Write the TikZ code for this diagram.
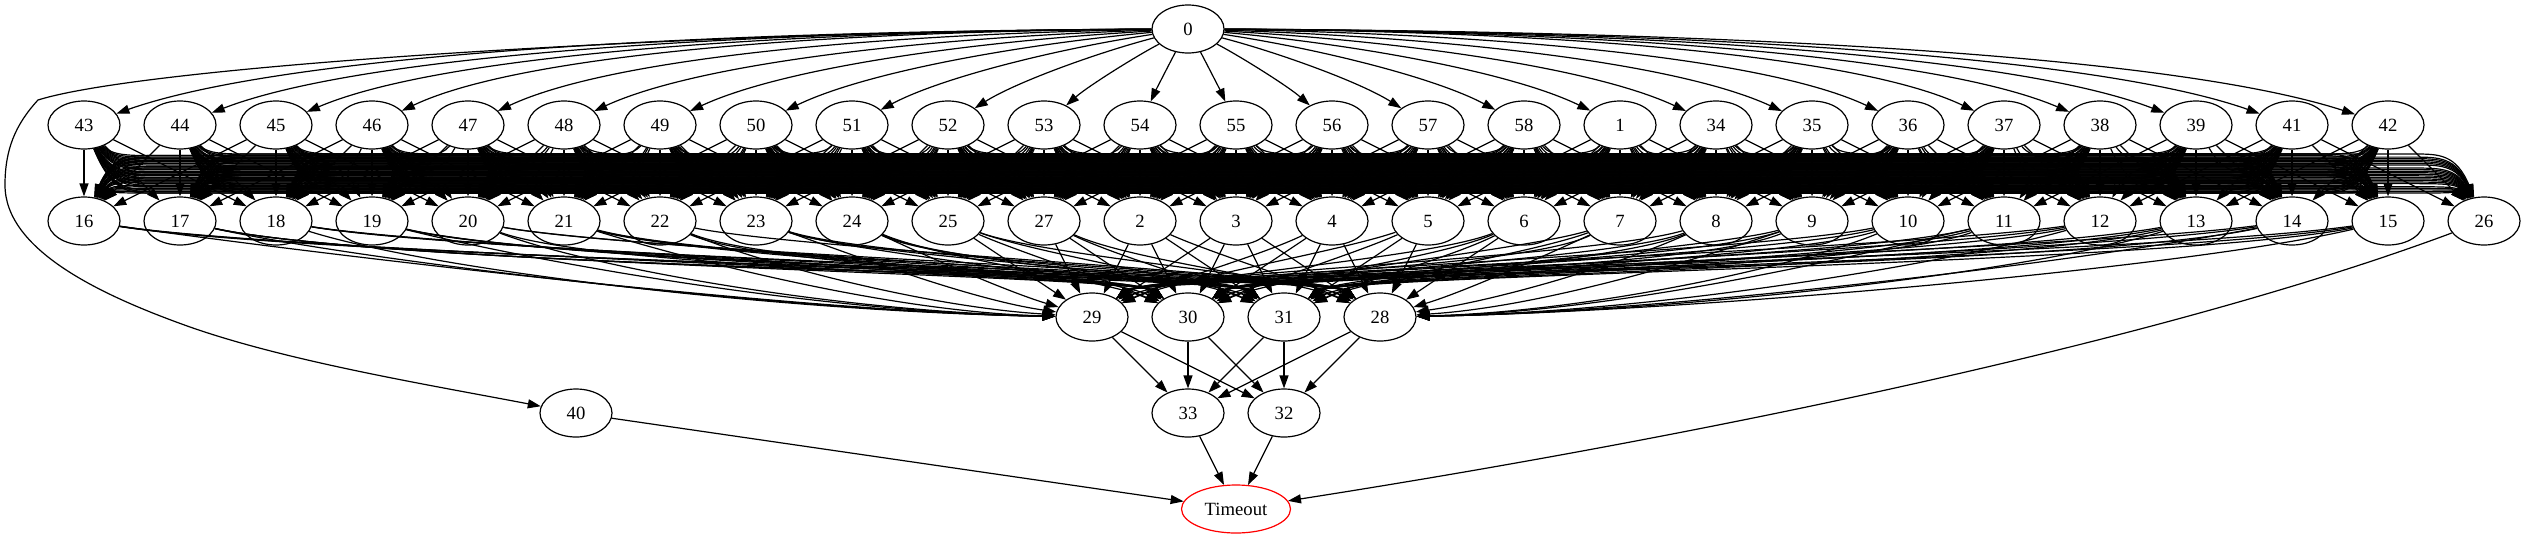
\documentclass[tikz,border=0pt]{standalone}
\usepackage{fontspec}
\setmainfont{Liberation Serif}
\usetikzlibrary{shapes.geometric,arrows.meta}
\begin{document}
\begin{tikzpicture}[x=1pt,y=-1pt,
  gnode/.style={ellipse,draw,line width=1.2pt,minimum width=72pt,minimum height=48pt,inner sep=0pt,font=\fontsize{18.67}{20}\selectfont},
  tnode/.style={gnode,draw=red,minimum width=109pt},
  edge/.style={line width=1.2pt,-{Triangle[length=13pt,width=9pt]}}]
\useasboundingbox (0,0) rectangle (2526,539);
% nodes
\node[gnode] (n0) at (1188,29) {0};
\foreach \lab [count=\i from 0] in {43,44,45,46,47,48,49,50,51,52,53,54,55,56,57,58,1,34,35,36,37,38,39,41,42}
  \node[gnode] (n\lab) at ({84+96*\i},125) {\lab};
\foreach \lab [count=\i from 0] in {16,17,18,19,20,21,22,23,24,25,27,2,3,4,5,6,7,8,9,10,11,12,13,14,15,26}
  \node[gnode] (n\lab) at ({84+96*\i},221) {\lab};
\foreach \lab [count=\i from 0] in {29,30,31,28}
  \node[gnode] (n\lab) at ({1092+96*\i},317) {\lab};
\node[gnode] (n33) at (1188,413) {33};
\node[gnode] (n32) at (1284,413) {32};
\node[gnode] (n40) at (576,413) {40};
\node[tnode] (nT) at (1236,509) {Timeout};
% 0 -> row 1
\foreach \lab [count=\i from 0] in {43,44,45,46,47,48,49,50,51,52,53,54,55,56,57,58,1,34,35,36,37,38,39,41,42} {
  \pgfmathsetmacro\xt{84+96*\i}
  \pgfmathsetmacro\dx{\xt-1188}
  \pgfmathsetmacro\f{min(1,abs(\dx)/800)}
  \pgfmathsetmacro\ax{1188+(1-\f)*\dx/3+\f*0.45*\dx}
  \pgfmathsetmacro\ay{(1-\f)*61+\f*31}
  \pgfmathsetmacro\bx{\xt-(1-\f)*\dx/3-\f*0.18*\dx}
  \pgfmathsetmacro\by{(1-\f)*93+\f*55}
  \draw[edge] (n0) .. controls (\ax,\ay) and (\bx,\by) .. (n\lab);
}
% 0 -> 40
\draw[edge] (n0) .. controls (700,31) and (150,65) .. (38,100)
  .. controls (15,125) and (5,150) .. (5,185)
  .. controls (5,250) and (100,295) .. (190,327)
  .. controls (290,362) and (430,385) .. (n40);
% row 1 -> row 2
\foreach \a [count=\i from 0] in {43,44,45,46,47,48,49,50,51,52,53,54,55,56,57,58,1,34,35,36,37,38,39,41,42} {
  \foreach \b [count=\j from 0] in {16,17,18,19,20,21,22,23,24,25,27,2,3,4,5,6,7,8,9,10,11,12,13,14,15,26} {
    \pgfmathsetmacro\xs{84+96*\i}
    \pgfmathsetmacro\xt{84+96*\j}
    \pgfmathsetmacro\dx{\xt-\xs}
    \pgfmathtruncatemacro\far{abs(\dx)>200}
    \ifnum\far=1
      \pgfmathsetmacro\sg{(\dx>0)-(\dx<0)}
      \pgfmathsetmacro\h{154+39*mod(7*\i+11*\j,26)/25}
      \pgfmathsetmacro\pa{\xs+\sg*28}
      \pgfmathsetmacro\pb{\xs+\sg*45}
      \pgfmathsetmacro\pc{\xs+\sg*70}
      \pgfmathsetmacro\qc{\xt-\sg*70}
      \pgfmathsetmacro\qb{\xt-\sg*45}
      \pgfmathsetmacro\qa{\xt-\sg*28}
      \draw[edge] (n\a) .. controls (\pa,\h) and (\pb,\h) .. (\pc,\h) -- (\qc,\h)
        .. controls (\qb,\h) and (\qa,\h) .. (n\b);
    \else
      \draw[edge] (n\a) -- (n\b);
    \fi
  }
}
% row 2 -> row 3
\foreach \a [count=\j from 0] in {16,17,18,19,20,21,22,23,24,25,27,2,3,4,5,6,7,8,9,10,11,12,13,14,15} {
  \foreach \b [count=\k from 0] in {29,30,31,28} {
    \pgfmathsetmacro\xs{84+96*\j}
    \pgfmathsetmacro\xt{1092+96*\k}
    \pgfmathsetmacro\dx{\xt-\xs}
    \pgfmathsetmacro\f{min(1,max(0,(abs(\dx)-150)/350))}
    \pgfmathsetmacro\sg{(\dx>0)-(\dx<0)}
    \pgfmathsetmacro\blk{(\dx>0)*\k+(\dx<0)*(3-\k)}
    \pgfmathsetmacro\isb{min(1,\blk)}
    \pgfmathsetmacro\aa{(1-\isb)*min(0.4*abs(\dx),300)+\isb*55}
    \pgfmathsetmacro\dd{(1-\isb)*5+\isb*42}
    \pgfmathsetmacro\h{250+22*mod(3*\j+\k,7)/6}
    \pgfmathsetmacro\ax{\xs+(1-\f)*\dx/3+\f*0.2*\dx}
    \pgfmathsetmacro\ay{(1-\f)*253+\f*\h}
    \pgfmathsetmacro\bx{\xt-(1-\f)*\dx/3-\f*\sg*\aa}
    \pgfmathsetmacro\by{(1-\f)*285+\f*(317-\dd)}
    \draw[edge] (n\a) .. controls (\ax,\ay) and (\bx,\by) .. (n\b);
  }
}
% row 3 -> row 4
\foreach \a in {29,30,31,28}
  \foreach \b in {33,32}
    \draw[edge] (n\a) -- (n\b);
\draw[edge] (n33) -- (nT);
\draw[edge] (n32) -- (nT);
\draw[edge] (n40) -- (nT);
\draw[edge] (n26) .. controls (2156,343) and (1690,438) .. (nT);
\end{tikzpicture}
\end{document}
